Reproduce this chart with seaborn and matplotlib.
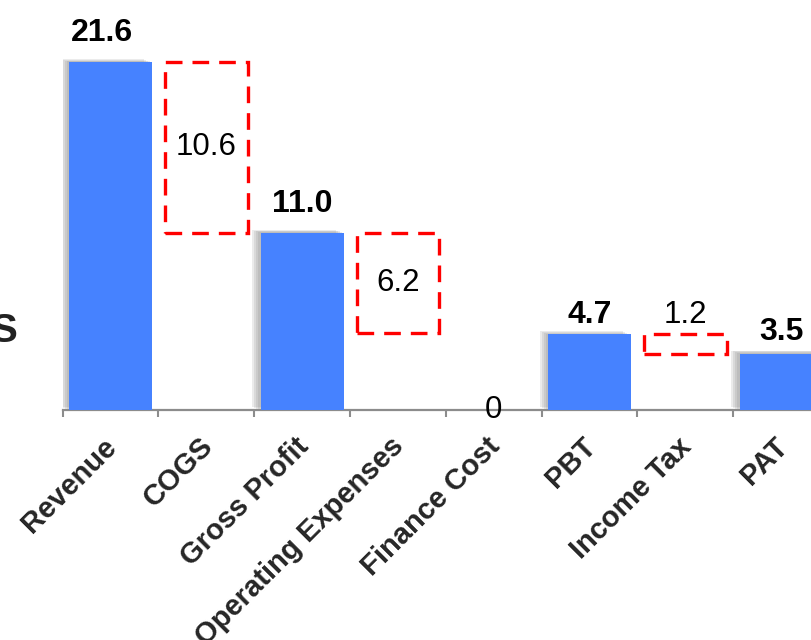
import matplotlib
matplotlib.use("Agg")
import matplotlib.pyplot as plt
import matplotlib.patheffects as pe
import matplotlib.transforms as mtrans
import numpy as np
import pandas as pd
import seaborn as sns

# ---- data ----
categories = ["Revenue", "COGS", "Gross Profit", "Operating Expenses",
              "Finance Cost", "PBT", "Income Tax", "PAT"]
values = [21.6, 10.6, 11.0, 6.2, 0.0, 4.7, 1.2, 3.5]
kinds = ["total", "change", "total", "change", "change", "total", "change", "total"]
value_labels = ["21.6", "10.6", "11.0", "6.2", "0", "4.7", "1.2", "3.5"]
side_label = "S"

sns.set_theme(style="white")
plt.rcParams["font.family"] = ["Liberation Sans", "DejaVu Sans"]

# running totals for the floating (change) boxes
bottoms = []
level = 0.0
for v, k in zip(values, kinds):
    if k == "total":
        level = v
        bottoms.append(0.0)
    else:
        level = level - v
        bottoms.append(level)

df_tot = pd.DataFrame({"category": [c for c, k in zip(categories, kinds) if k == "total"],
                       "value": [v for v, k in zip(values, kinds) if k == "total"]})

fig = plt.figure(figsize=(8.12, 6.4), dpi=100)
ax = fig.add_axes([62.7 / 812, (640 - 410) / 640, 95.8 * 8 / 812, 24 * 16.11 / 640])

sns.barplot(data=df_tot, x="category", y="value", order=categories,
            color="#4682FF", saturation=1, width=0.87, ax=ax, zorder=3,
            linewidth=0, edgecolor="none")

shadow = [pe.SimplePatchShadow(offset=(-d, d * 0.35), shadow_rgbFace="#666666", alpha=0.13)
          for d in (1.5, 3, 4.5, 6)]
for p in ax.patches:
    p.set_linewidth(0)
    p.set_path_effects(shadow + [pe.Normal()])

# floating change boxes
pos = np.arange(len(categories))
chg_idx = [i for i, k in enumerate(kinds) if k == "change" and values[i] != 0]
ax.bar(pos[chg_idx], [values[i] for i in chg_idx], bottom=[bottoms[i] for i in chg_idx],
       width=0.86, fill=False, edgecolor="#FF0000", linewidth=2.4,
       linestyle=(0, (5, 3)), zorder=4)

# labels
label_off = [(-6, 15), (0, 0), (0, 15), (0, 0), (0, 0), (0, 8), (0, 8), (0, 10)]
fs_b = 23
fs_n = 22.5
for i, (v, k, t) in enumerate(zip(values, kinds, value_labels)):
    if k == "total":
        ax.annotate(t, (i, v), xytext=label_off[i], textcoords="offset points",
                    ha="center", va="baseline", fontsize=fs_b, fontweight="bold", color="black")
    elif v == 0:
        ax.text(i, 0, t, ha="center", va="center", fontsize=fs_n, color="black")
    elif v < 3:
        ax.annotate(t, (i, bottoms[i] + v), xytext=label_off[i], textcoords="offset points",
                    ha="center", va="baseline", fontsize=fs_n, color="black")
    else:
        ax.text(i, bottoms[i] + v / 2, t, ha="center", va="center", fontsize=fs_n, color="black")

ax.set_xlim(-0.5, 7.5)
ax.set_ylim(0, 24)
ax.set_ylabel("")
ax.set_xlabel("")
ax.set_yticks([])
for s in ["left", "right", "top"]:
    ax.spines[s].set_visible(False)
ax.spines["bottom"].set_color("#8C8C8C")
ax.spines["bottom"].set_linewidth(1.6)

ax.set_xticks(np.arange(-0.5, 8, 1.0))
ax.set_xticklabels([])
ax.tick_params(axis="x", which="major", direction="out", length=5, width=1.5,
               color="#8C8C8C", bottom=True)
ax.set_xticks(pos, minor=True)
ax.set_xticklabels(categories, minor=True, rotation=45, ha="right",
                   rotation_mode="anchor", fontsize=21, fontweight="bold", va="top")
ax.tick_params(axis="x", which="minor", length=0, pad=16, bottom=True)
shift = mtrans.ScaledTranslation(-8 / 100, 0, fig.dpi_scale_trans)
for lab in ax.get_xticklabels(minor=True):
    lab.set_transform(lab.get_transform() + shift)

fig.text(18 / 812, 1 - 342 / 640, side_label, ha="right", va="baseline",
         fontsize=29, fontweight="bold", color="#222222")

fig.savefig("out.png", dpi=100)
